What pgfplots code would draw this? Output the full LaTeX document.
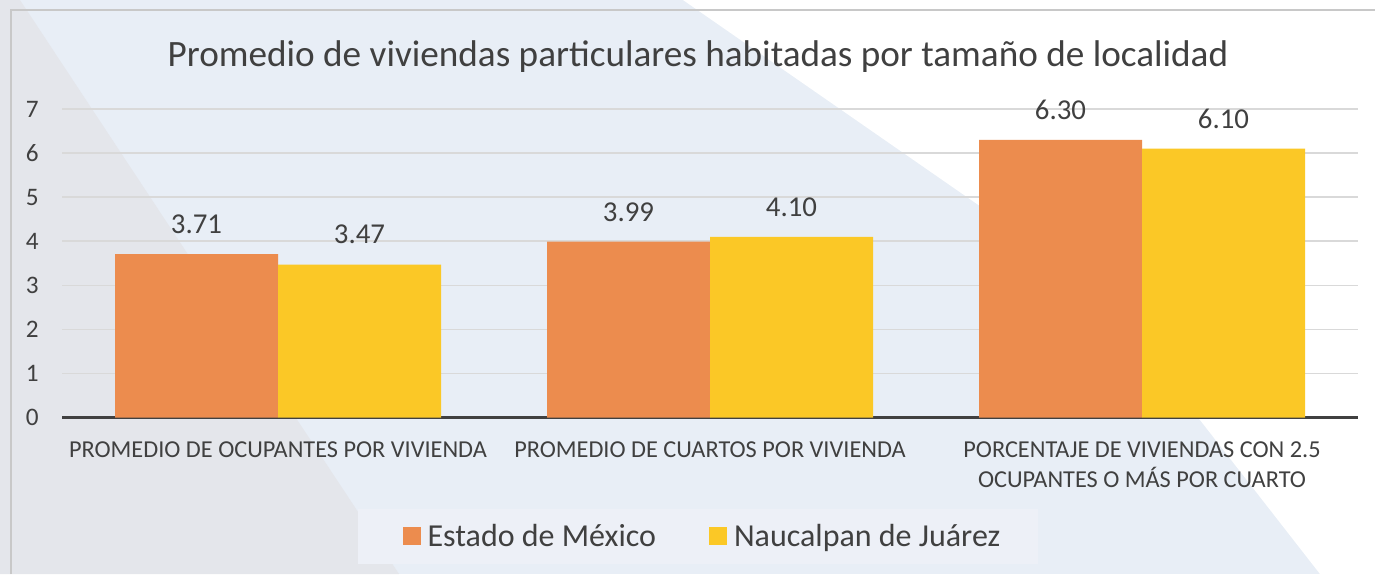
\documentclass[border=0pt]{standalone}
\usepackage{pgfplots}
\pgfplotsset{compat=1.18}
\usepackage{fontspec}
\setmainfont{Carlito}
\definecolor{bgC}{HTML}{E8EEF6}
\definecolor{grayC}{HTML}{E4E6EB}
\definecolor{legC}{HTML}{EDF0F7}
\definecolor{orangeC}{HTML}{EC8C4E}
\definecolor{yellowC}{HTML}{FBC826}
\definecolor{txtC}{HTML}{404040}
\definecolor{gridC}{HTML}{D9D9D9}
\definecolor{borderC}{HTML}{C8C8C8}
\begin{document}
\begin{tikzpicture}
\begin{scope}[x=0.5pt,y=-0.5pt,yshift=287pt]
% background (pixel coordinates, y downward)
\fill[bgC] (0,0) rectangle (1375,574);
\fill[grayC] (0,0) -- (20,0) -- (399,574) -- (0,574) -- cycle;
\fill[white] (683,0) -- (1375,0) -- (1375,574) -- (1320,574) -- (1200,420) -- (1000,220) -- cycle;
\draw[borderC, line width=0.75pt] (11,574) -- (11,10) -- (1375,10);
\fill[legC] (358,509) rectangle (1038,564);
\node[anchor=base, text=txtC, font=\fontsize{18.6}{22}\selectfont] at (698,67) {Promedio de viviendas particulares habitadas por tamaño de localidad};
\end{scope}
\begin{axis}[
  at={(31pt,78.25pt)}, anchor=south west,
  scale only axis,
  width=648pt, height=154.25pt,
  ybar=0pt, bar width=81.5pt,
  xmin=-0.5, xmax=2.5, ymin=0, ymax=7,
  xtick={0,1,2},
  xticklabels={PROMEDIO DE OCUPANTES POR VIVIENDA, PROMEDIO DE CUARTOS POR VIVIENDA, {PORCENTAJE DE VIVIENDAS CON 2.5\\OCUPANTES O MÁS POR CUARTO}},
  ytick={0,1,...,7},
  axis line style={draw=none},
  major tick length=0pt,
  ymajorgrids, grid style={gridC, line width=0.75pt},
  extra y ticks={0}, extra y tick labels={},
  extra y tick style={grid style={txtC, line width=1.5pt}},
  yticklabel style={font=\fontsize{12.6}{15}\selectfont, text=txtC, inner sep=0pt, xshift=-11.5pt},
  xticklabel style={font=\fontsize{12.15}{15}\selectfont, text=txtC, align=center, inner sep=0pt, yshift=-12pt},
  /pgf/number format/assume math mode=true,
  nodes near coords={\pgfmathprintnumber[fixed,fixed zerofill,precision=2,assume math mode=true]{\pgfplotspointmeta}},
  every node near coord/.append style={font=\fontsize{14.4}{17}\selectfont, text=txtC, inner sep=0pt, yshift=10pt},
  legend columns=2,
  legend style={at={(0.4961,-0.3857)}, anchor=center, draw=none, fill=none,
    font=\fontsize{16}{19}\selectfont, text=txtC,
    /tikz/every even column/.append style={column sep=23pt},
    nodes={inner xsep=3.5pt}},
]
\addplot[draw=none, fill=orangeC, legend image code/.code={\fill[orangeC] (0pt,-4.5pt) rectangle (9pt,4.5pt);}] coordinates {(0,3.71) (1,3.99) (2,6.30)};
\addplot[draw=none, fill=yellowC, legend image code/.code={\fill[yellowC] (0pt,-4.5pt) rectangle (9pt,4.5pt);}] coordinates {(0,3.47) (1,4.10) (2,6.10)};
\legend{Estado de México, Naucalpan de Juárez}
\end{axis}
\pgfresetboundingbox
\useasboundingbox (0,0) rectangle (687.5pt,287pt);
\end{tikzpicture}
\end{document}
